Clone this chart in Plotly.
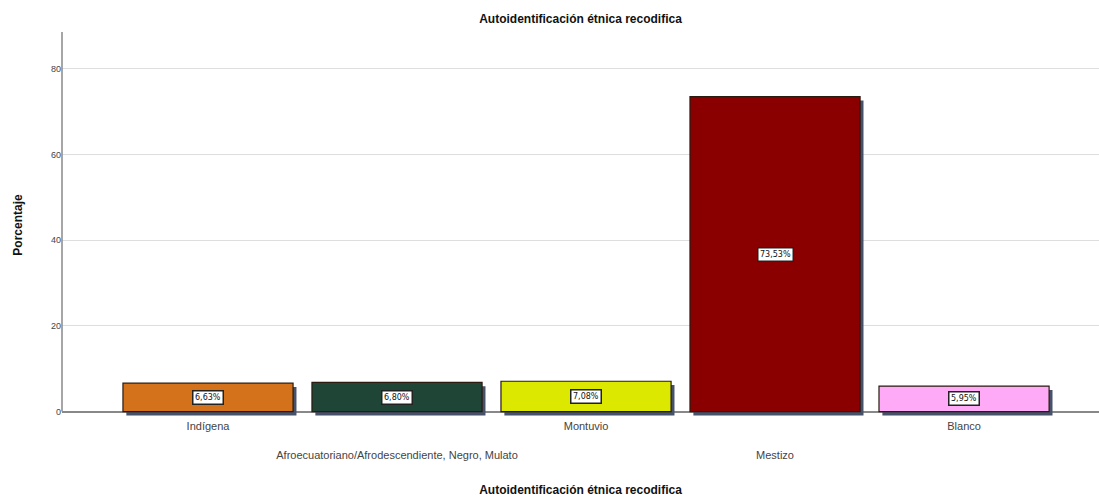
import plotly.graph_objects as go

categories = ["Indígena", "Afroecuatoriano/Afrodescendiente, Negro, Mulato",
              "Montuvio", "Mestizo", "Blanco"]
values = [6.63, 6.80, 7.08, 73.53, 5.95]
value_labels = ["6,63%", "6,80%", "7,08%", "73,53%", "5,95%"]
colors = ["#d4721c", "#1f4536", "#dce800", "#8a0000", "#ffaaf6"]
y_ticks = [0, 20, 40, 60, 80]

x_idx = list(range(len(categories)))
tick_text = [c if i % 2 == 0 else "<br><br>" + c for i, c in enumerate(categories)]

fig = go.Figure()
# drop shadows
fig.add_trace(go.Bar(
    x=x_idx, y=values, base=[-0.9] * len(values), width=0.9, offset=-0.45 + 0.018,
    marker=dict(color="#46516a", line=dict(width=0)), hoverinfo="skip", showlegend=False,
))
fig.add_trace(go.Bar(
    x=x_idx, y=values, width=0.9, offset=-0.45,
    marker=dict(color=colors, line=dict(color="#2a1a10", width=1.2)),
    showlegend=False,
))
for i, (v, t) in enumerate(zip(values, value_labels)):
    fig.add_annotation(x=i, y=v / 2, text=t, showarrow=False,
                       font=dict(family="DejaVu Sans, Arial", size=8, color="#111"),
                       bgcolor="white", bordercolor="#222", borderwidth=1.5, borderpad=1.5)

fig.update_layout(
    width=1099, height=498, barmode="overlay",
    margin=dict(l=62, r=0, t=32, b=80),
    paper_bgcolor="white", plot_bgcolor="white",
    font=dict(family="Liberation Sans, Arial", color="#333"),
    title=dict(text="<b>Autoidentificación étnica recodifica</b>", x=(62 + 1099) / 2 / 1099,
               xanchor="center", y=0.963, yanchor="middle",
               font=dict(size=12, color="#111")),
)
fig.update_xaxes(
    range=[-0.7725, 4.714], tickmode="array", tickvals=x_idx, ticktext=tick_text,
    showgrid=False, showline=False, ticks="", zeroline=False,
    tickfont=dict(size=11, color="#444"),
    title=dict(text="<b>Autoidentificación étnica recodifica</b>", standoff=26,
               font=dict(size=12, color="#111")),
)
fig.update_yaxes(
    range=[-1.5, 88.6], tickmode="array", tickvals=y_ticks, ticktext=[str(t) for t in y_ticks],
    showgrid=True, gridcolor="#dedede", gridwidth=1,
    zeroline=True, zerolinecolor="#888", zerolinewidth=1.5,
    showline=False, ticks="", ticklen=0,
    tickfont=dict(size=9, color="#444"),
    title=dict(text="<b>Porcentaje</b>", standoff=25, font=dict(size=12, color="#111")),
)
# y axis line from 0 up to top
fig.add_shape(type="line", xref="paper", yref="y", x0=0, x1=0, y0=0, y1=88.6,
              line=dict(color="#888", width=1.5), layer="above")

fig.write_html("out.html")
